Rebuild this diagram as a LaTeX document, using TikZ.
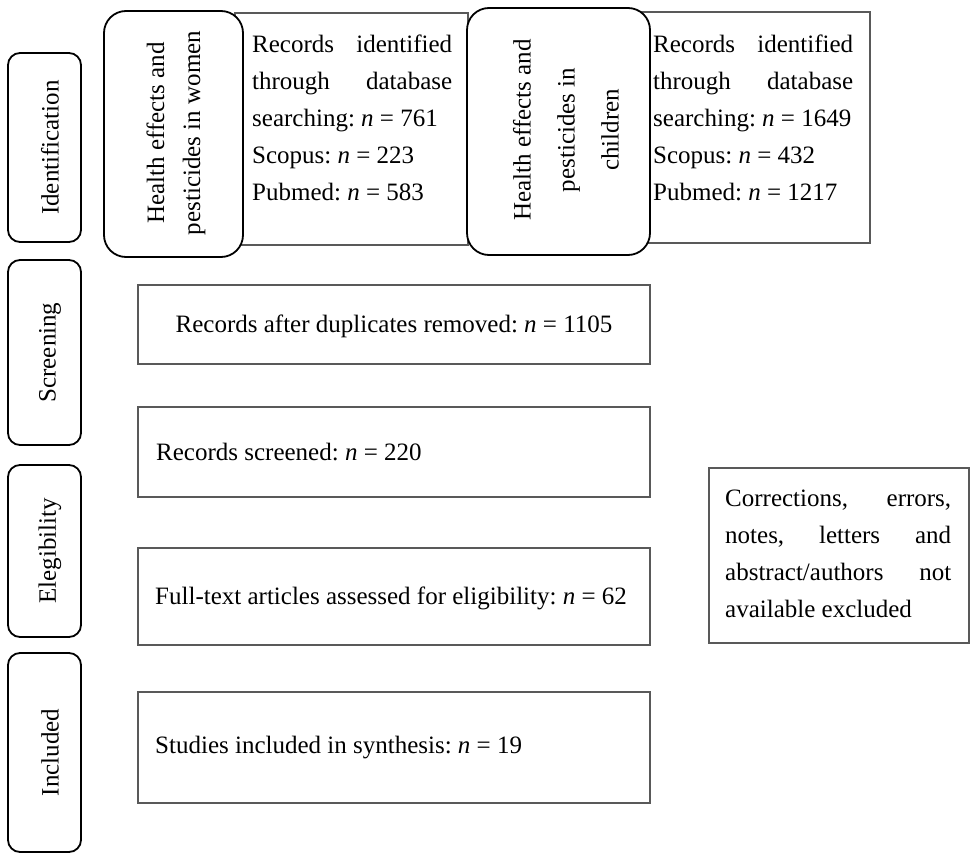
\documentclass[tikz,border=0pt]{standalone}
\usepackage{fontspec}
\setmainfont{Liberation Serif}
\frenchspacing
\begin{document}
\begin{tikzpicture}[x=1pt,y=-1pt,
  stagebox/.style={draw=black, line width=1.8pt, rounded corners=12pt, fill=white, inner sep=0pt},
  topicbox/.style={draw=black, line width=1.8pt, rounded corners=22pt, fill=white, inner sep=0pt},
  recbox/.style={draw=black!65, line width=1.5pt, fill=white, inner sep=0pt},
  txt/.style={font=\fontsize{25}{37}\selectfont, inner sep=0pt},
  vtxt/.style={font=\fontsize{25}{36}\selectfont, inner sep=0pt, rotate=90, align=center}
]
\useasboundingbox (0,0) rectangle (980,861);
% stage boxes
\node[stagebox, minimum width=73pt, minimum height=189pt] (ident) at (44.5,147.5) {};
\node[stagebox, minimum width=73pt, minimum height=185pt] (screen) at (44.5,352.5) {};
\node[stagebox, minimum width=73pt, minimum height=172pt] (elig) at (44.5,551) {};
\node[stagebox, minimum width=73pt, minimum height=199pt] (incl) at (44.5,752.5) {};
\node[vtxt] (identt) at (50,147.5) {Identification};
\node[vtxt] (screent) at (50,352.5) {Screening};
\node[vtxt] (eligt) at (50,551) {Elegibility};
\node[vtxt] (inclt) at (50,752.5) {Included};
% identification boxes
\node[recbox, minimum width=233pt, minimum height=232pt] (wrec) at (351.5,129) {};
\node[recbox, minimum width=230pt, minimum height=231pt] (crec) at (755,127.5) {};
\node[topicbox, minimum width=139pt, minimum height=246pt] (women) at (173.5,134) {};
\node[topicbox, minimum width=183pt, minimum height=247pt] (child) at (558.5,131.5) {};
\node[vtxt, font=\fontsize{25}{36}\selectfont] (womt) at (176,133) {Health effects and\\pesticides in women};
\node[vtxt, font=\fontsize{25}{44}\selectfont] (chit) at (566,130) {Health effects and\\pesticides in\\children};
\node[txt, anchor=north west, align=left] (wtext) at (252,35)
 {\hbox to 200pt{Records\hfill identified}\\
  \hbox to 200pt{through\hfill database}\\
  searching: \textit{n} = 761\\
  Scopus: \textit{n} = 223\\
  Pubmed: \textit{n} = 583};
\node[txt, anchor=north west, align=left] (ctext) at (653,35)
 {\hbox to 200pt{Records\hfill identified}\\
  \hbox to 200pt{through\hfill database}\\
  searching: \textit{n} = 1649\\
  Scopus: \textit{n} = 432\\
  Pubmed: \textit{n} = 1217};
% main boxes
\node[recbox, minimum width=512pt, minimum height=79pt] (dup) at (394,324.5) {};
\node[txt] (dupt) at (394,326) {Records after duplicates removed: \textit{n} = 1105};
\node[recbox, minimum width=512pt, minimum height=90pt] (scr) at (394,452) {};
\node[txt, anchor=west] (scrt) at (156,452) {Records screened: \textit{n} = 220};
\node[recbox, minimum width=512pt, minimum height=97pt] (full) at (394,596.5) {};
\node[txt, anchor=west] (fullt) at (155,598) {Full-text articles assessed for eligibility: \textit{n} = 62};
\node[recbox, minimum width=512pt, minimum height=111pt] (stud) at (394,747.5) {};
\node[txt, anchor=west] (studt) at (155,748) {Studies included in synthesis: \textit{n} = 19};
% exclusion
\node[recbox, minimum width=260pt, minimum height=175pt] (excl) at (839,555.5) {};
\node[txt, anchor=north west, align=left] (exclt) at (725,490)
 {\hbox to 226pt{Corrections,\hfill errors,}\\
  \hbox to 226pt{notes,\hfill letters\hfill and}\\
  \hbox to 226pt{abstract/authors\hfill not}\\
  available excluded};
\end{tikzpicture}
\end{document}
